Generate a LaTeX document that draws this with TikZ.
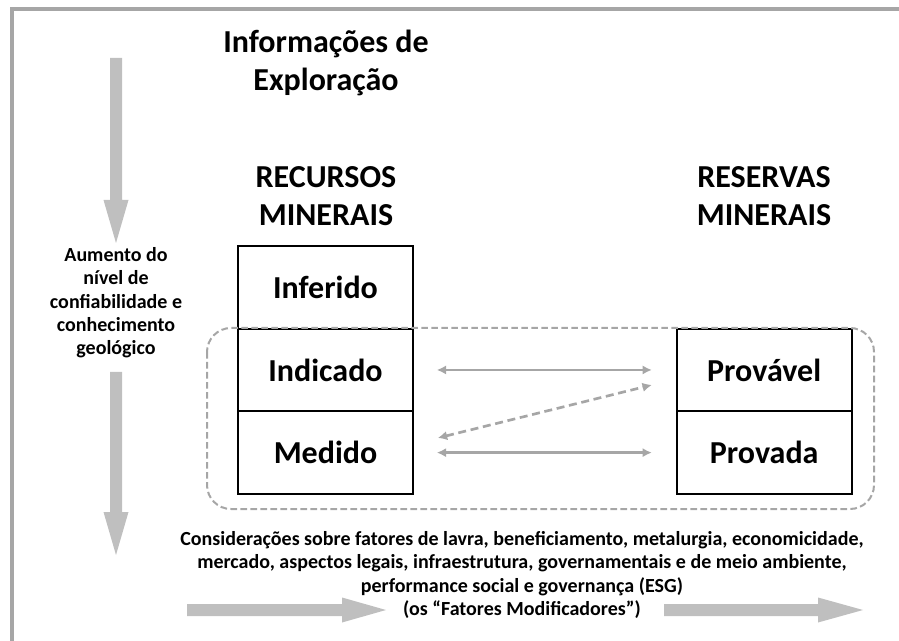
\documentclass[tikz,border=0pt]{standalone}
\usepackage{fontspec}
\setmainfont{Carlito}
\usetikzlibrary{positioning,arrows.meta}

\begin{document}
\begin{tikzpicture}[x=0.75pt,y=-0.75pt]
     % Define styles
     \tikzstyle{heading} = [font=\bfseries\fontsize{24}{28}\selectfont, align=center]
     \tikzstyle{catbox} = [draw, line width=1.5pt, minimum width=131pt, minimum height=62pt, outer sep=0pt, font=\bfseries\fontsize{24}{28}\selectfont]
     \tikzstyle{sidenote} = [font=\bfseries\fontsize{15}{17.5}\selectfont, align=center]
     \tikzstyle{link} = [gray!70, line width=2pt, >={Latex[length=7pt,width=7pt]}, <->]
     \tikzstyle{fat} = [fill=gray!50]

     \useasboundingbox (0,0) rectangle (899,641);

     % Frame
     \draw[gray!70, line width=2.5pt] (12,641) -- (12,9) -- (899,9);

     % Titles
     \node[heading] (info) at (326,63) {Informações de\\Exploração};
     \node[heading] (rec) at (326,196) {RECURSOS\\MINERAIS};
     \node[heading] (res) at (764,196) {RESERVAS\\MINERAIS};

     % Resource categories
     \node[catbox] (inf) at (325.5,287.3) {Inferido};
     \node[catbox, below=0pt of inf] (ind) {Indicado};
     \node[catbox, below=0pt of ind] (med) {Medido};

     % Reserve categories
     \node[catbox, right=198pt of ind] (prov) {Provável};
     \node[catbox, below=0pt of prov] (provd) {Provada};

     % Dashed group
     \draw[gray!70, line width=1.5pt, dash pattern=on 5pt off 2.5pt, rounded corners=18pt] (207,328) rectangle (874,509);

     % Conversion arrows
     \draw[link, shorten <=18pt, shorten >=18.75pt] (ind) -- (prov);
     \draw[link, shorten <=18pt, shorten >=18.75pt] (med) -- (provd);
     \draw[link, dash pattern=on 6pt off 3.5pt] ([xshift=18.75pt,yshift=11pt]med.east) -- ([xshift=-18.75pt,yshift=-11.25pt]prov.west);

     % Confidence arrows
     \foreach \a/\b/\c in {58/200/243, 372/512/555} {
          \fill[fat] (110,\a) -- (122,\a) -- (122,\b) -- (128.5,\b) -- (116,\c) -- (103.5,\b) -- (110,\b) -- cycle;
     }
     \node[sidenote] (conf) at (116,303) {Aumento do\\nível de\\confiabilidade e\\conhecimento\\geológico};

     % Modifying factors arrows
     \foreach \a/\b/\c in {187/342/386, 664/818/863} {
          \fill[fat] (\a,604) -- (\b,604) -- (\b,597.5) -- (\c,610) -- (\b,622.5) -- (\b,616) -- (\a,616) -- cycle;
     }
     \node[sidenote] (mods) at (522,575) {Considerações sobre fatores de lavra, beneficiamento, metalurgia, economicidade,\\mercado, aspectos legais, infraestrutura, governamentais e de meio ambiente,\\performance social e governança (ESG)\\(os “Fatores Modificadores”)};

\end{tikzpicture}
\end{document}
